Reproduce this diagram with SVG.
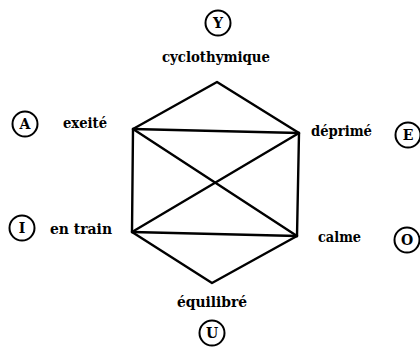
<svg xmlns="http://www.w3.org/2000/svg" width="420" height="349" viewBox="0 0 420 349">
<style>
.bg{fill:#fff}
.edge{stroke:#000;stroke-width:2.4;fill:none;stroke-linecap:round;stroke-linejoin:round}
.ring{stroke:#000;stroke-width:2;fill:#fff}
.lt{font-family:'DejaVu Serif','Liberation Serif',serif;font-weight:bold;font-size:14px;fill:#000;text-anchor:middle}
.lb{font-family:'DejaVu Serif','Liberation Serif',serif;font-weight:bold;font-size:14px;fill:#000}
</style>
<rect class="bg" x="0" y="0" width="420" height="349"/>
<g id="connectors">
<polyline class="edge" points="133,129 217,82 299,133 297,236 212,283 132,232 133,129"/>
<line class="edge" x1="133" y1="129" x2="299" y2="133"/>
<line class="edge" x1="132" y1="232" x2="297" y2="236"/>
<line class="edge" x1="133" y1="129" x2="297" y2="236"/>
<line class="edge" x1="132" y1="232" x2="299" y2="133"/>
</g>
<g id="node-Y">
<circle class="ring" cx="218" cy="23" r="12.5"/>
<text class="lt" x="218" y="28">Y</text>
<text class="lb" x="162" y="62" textLength="108" lengthAdjust="spacingAndGlyphs">cyclothymique</text>
</g>
<g id="node-A">
<circle class="ring" cx="25" cy="124" r="12.5"/>
<text class="lt" x="25" y="129">A</text>
<text class="lb" x="63" y="128" textLength="44" lengthAdjust="spacingAndGlyphs">exeité</text>
</g>
<g id="node-E">
<circle class="ring" cx="408" cy="135" r="12.5"/>
<text class="lt" x="408" y="140">E</text>
<text class="lb" x="311" y="136" textLength="61" lengthAdjust="spacingAndGlyphs">déprimé</text>
</g>
<g id="node-I">
<circle class="ring" cx="22" cy="228" r="12.5"/>
<text class="lt" x="22" y="233">I</text>
<text class="lb" x="50" y="234" textLength="62" lengthAdjust="spacingAndGlyphs">en train</text>
</g>
<g id="node-O">
<circle class="ring" cx="407" cy="240" r="12.5"/>
<text class="lt" x="407" y="245">O</text>
<text class="lb" x="318" y="242" textLength="43" lengthAdjust="spacingAndGlyphs">calme</text>
</g>
<g id="node-U">
<circle class="ring" cx="212" cy="333" r="12.5"/>
<text class="lt" x="212" y="338">U</text>
<text class="lb" x="177" y="307" textLength="70" lengthAdjust="spacingAndGlyphs">équilibré</text>
</g>
</svg>
